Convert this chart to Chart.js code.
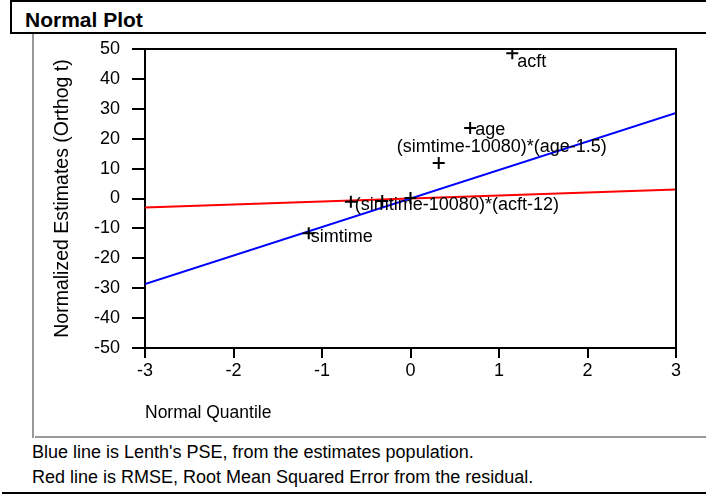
<!DOCTYPE html>
<html>
<head>
<meta charset="utf-8">
<script src="https://cdn.jsdelivr.net/npm/chart.js@4/dist/chart.umd.min.js"></script>
<style>
html, body { margin: 0; padding: 0; background: #fff; }
#wrap { position: relative; width: 706px; height: 494px; overflow: hidden; font-family: "Liberation Sans", Arial, sans-serif; color: #000; }
#titlebox { position: absolute; left: 10px; top: 0; width: 720px; height: 30px; border: 2px solid #000; }
#title { position: absolute; left: 25px; top: 9px; font-weight: bold; font-size: 21px; line-height: 21px; white-space: nowrap; }
#vline { position: absolute; left: 32px; top: 34px; width: 2px; height: 404px; background: #999; }
#hline { position: absolute; left: 35px; top: 436px; width: 680px; height: 2px; background: #999; }
.note { position: absolute; left: 32px; font-size: 18px; line-height: 18px; white-space: nowrap; }
#note1 { top: 443px; }
#note2 { top: 468px; }
#bline { position: absolute; left: 2px; top: 492px; width: 710px; height: 2px; background: #000; }
canvas { position: absolute; left: 0; top: 0; }
</style>
</head>
<body>
<div id="wrap">
  <div id="titlebox"></div>
  <div id="title">Normal Plot</div>
  <div id="vline"></div>
  <div id="hline"></div>
  <div class="note" id="note1">Blue line is Lenth's PSE, from the estimates population.</div>
  <div class="note" id="note2">Red line is RMSE, Root Mean Squared Error from the residual.</div>
  <div id="bline"></div>
  <canvas id="c" width="706" height="494"></canvas>
</div>
<script>
// ---- data ----
const quantiles = [-1.15, -0.674, -0.319, 0, 0.319, 0.674, 1.15];
const estimates = [-11.6, -1.1, -0.8, 0.2, 11.9, 23.6, 48.6];
const pointLabels = ["simtime", "(simtime-10080)*(acft-12)", "", "", "(simtime-10080)*(age-1.5)", "age", "acft"];
const lineX = [-3, 3];
const lenthY = [-28.6, 28.6];
const rmseY = [-3.0, 3.0];
const xTicks = [-3, -2, -1, 0, 1, 2, 3];
const yTicks = [50, 40, 30, 20, 10, 0, -10, -20, -30, -40, -50];

// ---- style for point labels (pixel offsets from the marker) ----
const labelOffsets = [[2, 9], [4, 8], [0, 0], [0, 0], [-42, -11], [5, 7], [5, 14]];
const FONT = '"Liberation Sans", Arial, sans-serif';

const framePlugin = {
  id: 'frame',
  afterDraw(chart) {
    const {ctx, chartArea: a} = chart;
    ctx.save();
    ctx.strokeStyle = '#000';
    ctx.lineWidth = 2;
    ctx.beginPath();
    ctx.moveTo(a.left, a.top);
    ctx.lineTo(a.right, a.top);
    ctx.lineTo(a.right, a.bottom);
    ctx.stroke();
    ctx.restore();
  }
};

const labelPlugin = {
  id: 'pointLabels',
  afterDatasetsDraw(chart) {
    const {ctx} = chart;
    const meta = chart.getDatasetMeta(0);
    ctx.save();
    ctx.font = '18px ' + FONT;
    ctx.fillStyle = '#000';
    ctx.textAlign = 'left';
    ctx.textBaseline = 'alphabetic';
    meta.data.forEach((el, i) => {
      const t = pointLabels[i];
      if (!t) return;
      const o = labelOffsets[i];
      ctx.fillText(t, el.x + o[0], el.y + o[1]);
    });
    ctx.restore();
  }
};

Chart.defaults.font.family = FONT;
Chart.defaults.font.size = 18;
Chart.defaults.color = '#000';

new Chart(document.getElementById('c'), {
  type: 'scatter',
  data: {
    datasets: [
      {
        label: 'Estimates',
        data: quantiles.map((q, i) => ({x: q, y: estimates[i]})),
        pointStyle: 'cross',
        pointRadius: 6,
        pointBorderWidth: 2,
        borderColor: '#000',
        backgroundColor: '#000',
        showLine: false
      },
      {
        label: "Lenth's PSE",
        type: 'line',
        data: lineX.map((x, i) => ({x: x, y: lenthY[i]})),
        borderColor: '#0000ff',
        borderWidth: 2,
        pointRadius: 0,
        fill: false
      },
      {
        label: 'RMSE',
        type: 'line',
        data: lineX.map((x, i) => ({x: x, y: rmseY[i]})),
        borderColor: '#ff0000',
        borderWidth: 2,
        pointRadius: 0,
        fill: false
      }
    ]
  },
  options: {
    responsive: false,
    animation: false,
    events: [],
    layout: { padding: { left: 48, right: 30, top: 49, bottom: 66 } },
    plugins: { legend: { display: false }, tooltip: { enabled: false } },
    scales: {
      x: {
        type: 'linear',
        min: -3, max: 3,
        afterBuildTicks: s => { s.ticks = xTicks.map(v => ({value: v})); },
        afterFit: s => { s.height = 80; },
        grid: { drawOnChartArea: false, drawTicks: true, tickLength: 10, color: '#000', lineWidth: 2 },
        border: { display: true, color: '#000', width: 2 },
        ticks: { padding: 2, font: { size: 18 }, color: '#000' },
        title: { display: true, text: 'Normal Quantile', align: 'start', font: { size: 17.5 }, color: '#000', padding: { top: 4, bottom: 4 } }
      },
      y: {
        type: 'linear',
        min: -50, max: 50,
        afterBuildTicks: s => { s.ticks = yTicks.map(v => ({value: v})); },
        afterFit: s => { s.width = 97; },
        grid: { drawOnChartArea: false, drawTicks: true, tickLength: 13, color: '#000', lineWidth: 2 },
        border: { display: true, color: '#000', width: 2 },
        ticks: { padding: 12, font: { size: 18 }, color: '#000' },
        title: { display: true, text: 'Normalized Estimates (Orthog t)', font: { size: 19.5 }, color: '#000', padding: { top: 3, bottom: 3 } }
      }
    }
  },
  plugins: [framePlugin, labelPlugin]
});
</script>
</body>
</html>
